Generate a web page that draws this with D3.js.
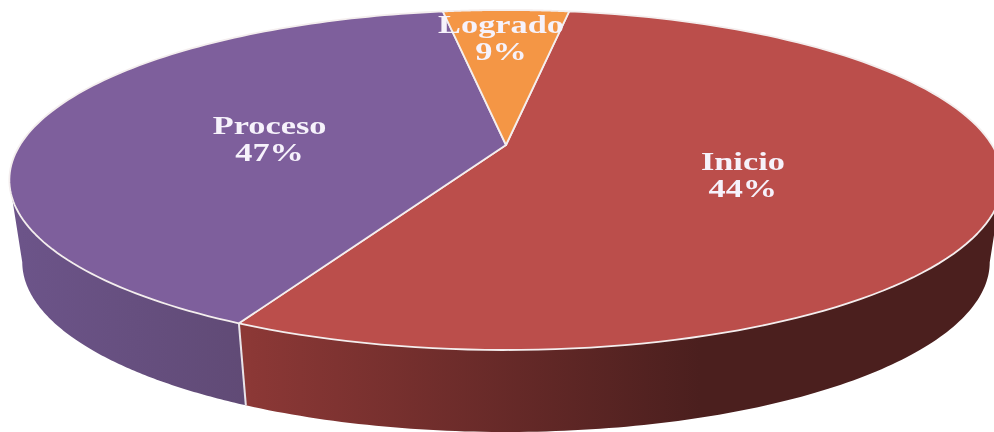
<!DOCTYPE html>
<html><head><meta charset="utf-8">
<script src="https://cdn.jsdelivr.net/npm/d3@7"></script>
<style>html,body{margin:0;padding:0;background:#fff;overflow:hidden}svg{display:block;filter:blur(0.7px)}</style>
</head><body><div id="chart"></div>
<script>
const categories = ["Inicio", "Proceso", "Logrado"];
const percentLabels = ["44%", "47%", "9%"];
// visible share of the disc per slice, as drawn in the picture (differs from printed labels)
const sliceShares = [54.9, 40.1, 5];
const topColors = ["#bb4e4b", "#7e5f9c", "#f49645"];
const sideColorsLeft = ["#8c3836", "#6c5489", "#c07030"];
const sideColorsRight = ["#4b1f1e", "#604a75", "#c07030"];
const labelRadius = [0.5, 0.5, 0.76];

const W = 994, H = 432;
const cx = 506, apexY = 145, rx = 486, persp = 0.206, yk = -132.9;
const depth = 82, bottomScale = 0.974;
const deg = Math.PI / 180;
const frontStart = 102 * deg, frontEnd = 258 * deg;

function P(a, r, lower) {
  const u = r * Math.sin(a), v = r * Math.cos(a), w = 1 + persp * v;
  const x = rx * u / w, y = (apexY + yk * v) / w;
  return lower ? [cx + x * bottomScale, y + depth] : [cx + x, y];
}
const svg = d3.select("#chart").append("svg").attr("width", W).attr("height", H);
const defs = svg.append("defs");
const startDeg = 9;
const pie = d3.pie().sort(null).startAngle(startDeg * deg).endAngle((startDeg + 360) * deg);
const arcs = pie(sliceShares);
const line = d3.line();
const sample = (a0, a1) => d3.range(0, 121).map(i => a0 + (a1 - a0) * i / 120);

categories.forEach((c, i) => {
  const g = defs.append("linearGradient").attr("id", "side" + i)
    .attr("gradientUnits", "userSpaceOnUse");
  if (i === 0) g.attr("x1", 245).attr("x2", 700).attr("y1", 0).attr("y2", 0);
  else g.attr("x1", 20).attr("x2", 250).attr("y1", 0).attr("y2", 0);
  g.append("stop").attr("offset", 0).attr("stop-color", sideColorsLeft[i]);
  g.append("stop").attr("offset", 1).attr("stop-color", sideColorsRight[i]);
});

// side walls
arcs.forEach((d, i) => {
  const a0 = Math.max(d.startAngle, frontStart), a1 = Math.min(d.endAngle, frontEnd);
  if (a1 <= a0) return;
  const s = sample(a0, a1);
  const pts = s.map(a => P(a, 1, false)).concat(s.slice().reverse().map(a => P(a, 1, true)));
  svg.append("path").attr("d", line(pts) + "Z").attr("fill", `url(#side${i})`);
});
// light seam between walls
const seam = arcs[0].endAngle;
svg.append("path").attr("d", line([P(seam, 1, false), P(seam, 1, true)]))
  .attr("stroke", "#e8e4ea").attr("stroke-width", 2).attr("fill", "none");

// top slices
arcs.forEach((d, i) => {
  const pts = [P(0, 0)].concat(sample(d.startAngle, d.endAngle).map(a => P(a, 1)));
  svg.append("path").attr("d", line(pts) + "Z").attr("fill", topColors[i])
    .attr("stroke", "#f4eeee").attr("stroke-width", 1.8).attr("stroke-linejoin", "round");
});

// labels
const labelShiftX = [-2, 0, -5], labelShiftY = [4, 6, 0];
arcs.forEach((d, i) => {
  const p = P((d.startAngle + d.endAngle) / 2, labelRadius[i]);
  const t = svg.append("text")
    .attr("transform", `translate(${p[0] + labelShiftX[i]},${p[1] + labelShiftY[i]}) scale(1.32,1)`)
    .attr("text-anchor", "middle").attr("fill", "#f6f2fb")
    .attr("font-family", "'Liberation Serif', serif").attr("font-weight", "bold").attr("font-size", 26);
  t.append("tspan").attr("x", 0).attr("y", -5).text(categories[i]);
  t.append("tspan").attr("x", 0).attr("y", 22).text(percentLabels[i]);
});
</script></body></html>
